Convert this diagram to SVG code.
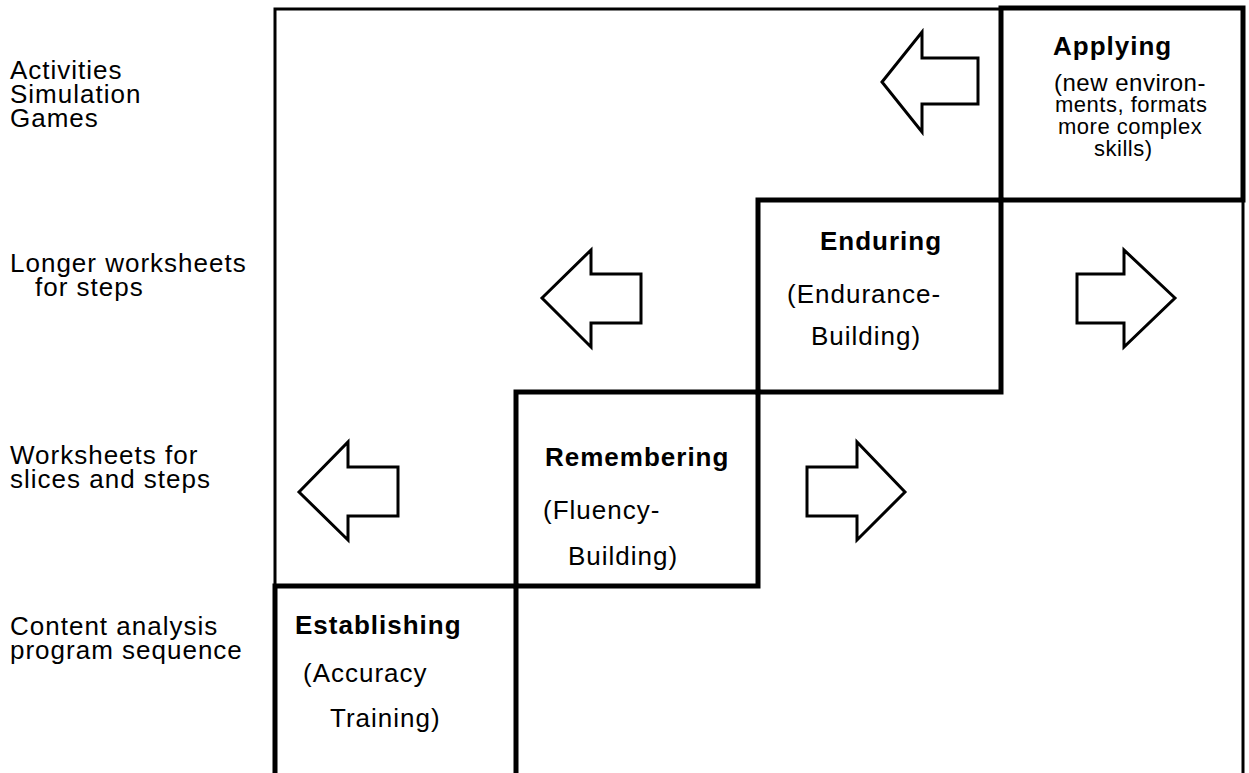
<svg xmlns="http://www.w3.org/2000/svg" width="1249" height="773" viewBox="0 0 1249 773">
<style>
.lbl{font-family:"Liberation Sans",Arial,sans-serif;font-size:26px;letter-spacing:1px;fill:#000}
.b{font-weight:bold}
.sm{font-size:22px;letter-spacing:0.5px}
.md{font-size:24px;letter-spacing:0.5px}
.frame{fill:none;stroke:#000;stroke-width:3}
.box{fill:none;stroke:#000;stroke-width:5;stroke-linejoin:miter;stroke-linecap:square}
.arr{fill:#fff;stroke:#000;stroke-width:3;stroke-linejoin:miter}
</style>
<rect width="1249" height="773" fill="#fff"/>
<g id="frame">
<path class="frame" d="M275,773 V9 H1001 M1243,200 V773"/>
</g>
<g id="row-labels">
<g id="label-applying-row">
<text class="lbl" x="10" y="79">Activities</text>
<text class="lbl" x="10" y="103">Simulation</text>
<text class="lbl" x="10" y="127">Games</text>
</g>
<g id="label-enduring-row">
<text class="lbl" x="10" y="272">Longer worksheets</text>
<text class="lbl" x="35" y="296">for steps</text>
</g>
<g id="label-remembering-row">
<text class="lbl" x="10" y="464">Worksheets for</text>
<text class="lbl" x="10" y="488">slices and steps</text>
</g>
<g id="label-establishing-row">
<text class="lbl" x="10" y="635">Content analysis</text>
<text class="lbl" x="10" y="659">program sequence</text>
</g>
</g>
<g id="node-applying">
<rect class="box" x="1001" y="8" width="242" height="192"/>
<text class="lbl b" x="1053" y="55">Applying</text>
<text class="lbl md" x="1054" y="91">(new environ-</text>
<text class="lbl sm" x="1055" y="112">ments, formats</text>
<text class="lbl sm" x="1058" y="134">more complex</text>
<text class="lbl sm" x="1094" y="156">skills)</text>
</g>
<g id="node-enduring">
<rect class="box" x="758" y="200" width="243" height="192"/>
<text class="lbl b" x="820" y="250">Enduring</text>
<text class="lbl" x="787" y="303">(Endurance-</text>
<text class="lbl" x="811" y="345">Building)</text>
</g>
<g id="node-remembering">
<rect class="box" x="516" y="392" width="242" height="194"/>
<text class="lbl b" x="545" y="466">Remembering</text>
<text class="lbl" x="543" y="519">(Fluency-</text>
<text class="lbl" x="568" y="565">Building)</text>
</g>
<g id="node-establishing">
<path class="box" d="M275,775 V586 H516 V775"/>
<text class="lbl b" x="295" y="634">Establishing</text>
<text class="lbl" x="303" y="682">(Accuracy</text>
<text class="lbl" x="330" y="727">Training)</text>
</g>
<g id="connectors">
<path class="arr" d="M882,82 L922,32 V58 H978 V104 H922 V132 Z"/>
<path class="arr" d="M542,298 L591,250 V274 H641 V323 H591 V347 Z"/>
<path class="arr" d="M1175,298 L1124,250 V274 H1077 V323 H1124 V347 Z"/>
<path class="arr" d="M299,492 L348,442 V467 H398 V516 H348 V540 Z"/>
<path class="arr" d="M905,492 L857,442 V467 H807 V516 H857 V540 Z"/>
</g>
</svg>
